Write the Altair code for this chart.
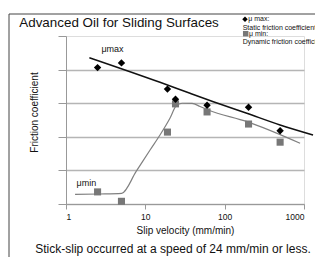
import altair as alt
import pandas as pd

FONT = "Liberation Sans"

# measured points
speed = [2.5, 5, 19, 24, 60, 200, 500]
mu_max = [0.203, 0.210, 0.171, 0.156, 0.147, 0.144, 0.109]
mu_min = [0.018, 0.004, 0.107, 0.149, 0.137, 0.119, 0.092]

# fitted curves
max_fit_speed = [1.97, 15.3, 36.6, 72, 190, 499, 1300]
max_fit_mu = [0.2177, 0.1811, 0.1647, 0.1522, 0.135, 0.1176, 0.1027]
min_fit_speed = [1.3, 2.68, 5.04, 7.63, 11.47, 15.3, 20.5, 24.4, 29.0, 38.8, 49.0, 61.8, 191.7, 893]
min_fit_mu = [0.0144, 0.0149, 0.0159, 0.0481, 0.0804, 0.1027, 0.128, 0.1458, 0.1499,
              0.1496, 0.1451, 0.1399, 0.1225, 0.0903]

x_ticks = [1, 10, 100, 1000]
y_ticks = [0, 0.05, 0.10, 0.15, 0.20, 0.25]

pts_max = pd.DataFrame({"v": speed, "mu": mu_max})
pts_min = pd.DataFrame({"v": speed, "mu": mu_min})
fit_max = pd.DataFrame({"v": max_fit_speed, "mu": max_fit_mu})
fit_min = pd.DataFrame({"v": min_fit_speed, "mu": min_fit_mu})

X = alt.X("v:Q", scale=alt.Scale(type="log", domain=[1, 1000], nice=False),
          axis=alt.Axis(values=x_ticks, format="d", title="Slip velocity (mm/min)",
                        grid=False, tickSize=5, tickColor="#999999", domainColor="#999999",
                        labelFont=FONT, labelFontSize=8.5, labelColor="#111111", labelPadding=3,
                        titleFont=FONT, titleFontSize=10, titleFontWeight="normal",
                        titleColor="#111111", titlePadding=5))
Y = alt.Y("mu:Q", scale=alt.Scale(domain=[0, 0.25], nice=False),
          axis=alt.Axis(values=y_ticks, labels=False, tickSize=8, tickColor="#999999",
                        domainColor="#999999", grid=True, gridColor="#b5b5b5", gridWidth=1.3,
                        gridOpacity={"condition": {"test": "datum.value > 0.24", "value": 0}, "value": 1},
                        title="Friction coefficient", titleFont=FONT, titleFontSize=10,
                        titleFontWeight="normal", titleColor="#111111", titlePadding=18,
                        titleY=76))

line_min = alt.Chart(fit_min).mark_line(color="#808080", strokeWidth=1.2, interpolate="monotone").encode(x=X, y=Y)
sq = alt.Chart(pts_min).mark_point(shape="square", filled=True, color="#777777", size=50, opacity=1).encode(x=X, y=Y)
line_max = alt.Chart(fit_max).mark_line(color="#111111", strokeWidth=1.5, interpolate="monotone").encode(x=X, y=Y)
dia = alt.Chart(pts_max).mark_point(shape="diamond", filled=True, color="#000000", size=55, opacity=1).encode(x=X, y=Y)

one = pd.DataFrame({"a": [0]})

frame_v = alt.Chart(one).mark_rule(color="#444444", strokeWidth=1).encode(
    x=alt.value(-57), y=alt.value(-22), y2=alt.value(230))
frame_h = alt.Chart(one).mark_rule(color="#444444", strokeWidth=1).encode(
    x=alt.value(-57), x2=alt.value(260), y=alt.value(-22))


def label(txt, x, y, size, align="left", baseline="middle", color="#111111"):
    return alt.Chart(pd.DataFrame({"t": [txt]})).mark_text(
        font=FONT, fontSize=size, align=align, baseline=baseline, color=color
    ).encode(x=alt.value(x), y=alt.value(y), text="t:N")


title = label("Advanced Oil for Sliding Surfaces", -46.7, -9, 13.4, baseline="alphabetic")
lbl_max = label("μmax", 46.5, 13, 9, align="center")
lbl_min = label("μmin", 20.3, 147.3, 9, align="center")
note = label("Stick-slip occurred at a speed of 24 mm/min or less.", 107, 217, 12,
             align="center", baseline="alphabetic")

leg_dia = alt.Chart(one).mark_point(shape="diamond", filled=True, color="#000000", size=30, opacity=1).encode(
    x=alt.value(179), y=alt.value(-16.7))
leg_sq = alt.Chart(one).mark_point(shape="square", filled=True, color="#777777", size=30, opacity=1).encode(
    x=alt.value(179.7), y=alt.value(-2.3))
leg1 = label("μ max:", 182.3, -16.7, 7)
leg2 = label("Static friction coefficient", 176.7, -8.5, 7)
leg3 = label("μ min:", 183, -2.3, 7)
leg4 = label("Dynamic friction coefficient", 176.7, 5.6, 7)

chart = alt.layer(
    line_min, sq, line_max, dia,
    frame_v, frame_h, title, lbl_max, lbl_min, note,
    leg_dia, leg_sq, leg1, leg2, leg3, leg4,
).properties(
    width=238, height=168,
    autosize=alt.AutoSizeParams(type="none"),
    padding={"left": 58, "top": 28, "right": 11, "bottom": 53},
).configure_view(stroke=None).configure(background="white")

chart.save("out.html", embed_options={"renderer": "svg", "actions": False})
